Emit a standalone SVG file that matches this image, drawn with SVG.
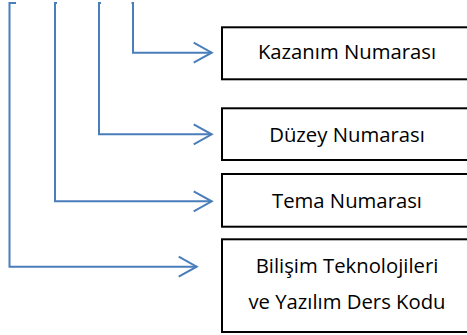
<svg xmlns="http://www.w3.org/2000/svg" width="467" height="335" viewBox="0 0 467 335">
<defs>
<style>
.box{fill:#fff;stroke:#000;stroke-width:2}
.lbl{font-family:"Open Sans","Liberation Sans",sans-serif;font-size:20.3px;fill:#000;text-anchor:middle}
.conn{fill:none;stroke:#4A7EBB;stroke-width:2}
</style>
<marker id="chev" markerUnits="userSpaceOnUse" markerWidth="24" markerHeight="24" refX="20" refY="12" orient="auto" viewBox="0 0 24 24">
<path d="M2,2 L20,12 L2,22" fill="none" stroke="#4A7EBB" stroke-width="2"/>
</marker>
</defs>
<g id="connectors">
<path class="conn" d="M16,3 H9.5 V266.7 H196.7" marker-end="url(#chev)"/>
<path class="conn" d="M57,3 H55 V201.3 H211.7" marker-end="url(#chev)"/>
<path class="conn" d="M101,3 H99 V134.3 H211.7" marker-end="url(#chev)"/>
<path class="conn" d="M131.5,3 H133 V52.7 H211.7" marker-end="url(#chev)"/>
</g>
<g id="kazanim">
<rect class="box" x="222" y="27.3" width="250" height="52"/>
<text class="lbl" x="347" y="59.3">Kazanım Numarası</text>
</g>
<g id="duzey">
<rect class="box" x="222" y="108.3" width="250" height="51.7"/>
<text class="lbl" x="347" y="142.3">Düzey Numarası</text>
</g>
<g id="tema">
<rect class="box" x="222" y="174" width="250" height="52.7"/>
<text class="lbl" x="347" y="207.7">Tema Numarası</text>
</g>
<g id="ders-kodu">
<rect class="box" x="222" y="239.3" width="250" height="92.7"/>
<text class="lbl" x="347" y="272.7">Bilişim Teknolojileri</text>
<text class="lbl" x="347" y="309.3">ve Yazılım Ders Kodu</text>
</g>
</svg>
